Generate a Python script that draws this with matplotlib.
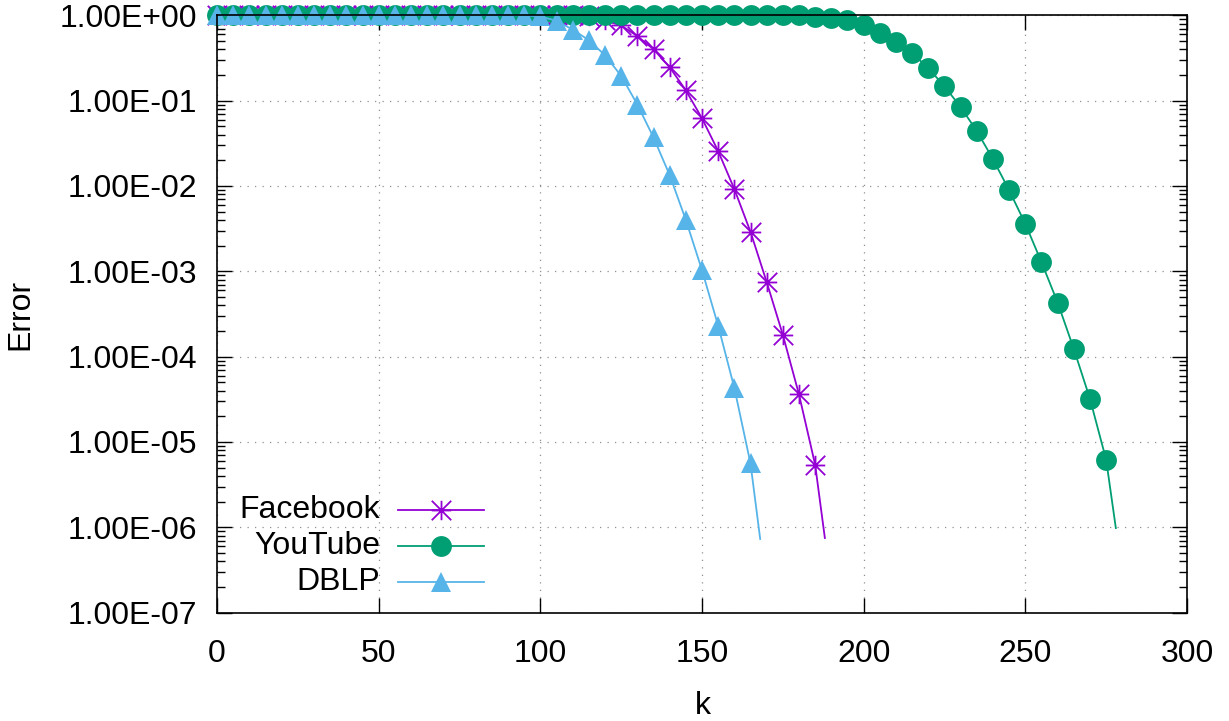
import matplotlib
matplotlib.use("Agg")
import matplotlib.pyplot as plt
from matplotlib.path import Path
from matplotlib.lines import Line2D
from matplotlib.ticker import FuncFormatter, LogLocator, NullFormatter, MultipleLocator
import numpy as np

plt.rcParams['font.family'] = ['Liberation Sans', 'DejaVu Sans']

# error vs k, one marker every 5 steps of k
k_step = 5
facebook_err = [1.0] * 23 + [0.97, 0.87, 0.76, 0.57, 0.40, 0.246, 0.132, 0.062,
                             0.0256, 0.0092, 0.0029, 7.5e-4, 1.8e-4, 3.6e-5, 5.4e-6]
youtube_err = [1.0] * 37 + [0.96, 0.92, 0.87, 0.76, 0.62, 0.48, 0.36, 0.24, 0.147,
                            0.084, 0.044, 0.0206, 0.0089, 0.0036, 0.00128, 4.3e-4,
                            1.23e-4, 3.2e-5, 6.2e-6]
dblp_err = [1.0] * 20 + [0.97, 0.86, 0.68, 0.51, 0.34, 0.195, 0.09, 0.037, 0.0134,
                         0.0040, 0.00103, 2.3e-4, 4.3e-5, 5.6e-6]

# last nonzero error of each run (line continues past the last marker)
facebook_end = (188, 7.5e-7)
youtube_end = (278, 9.8e-7)
dblp_end = (168, 7.3e-7)

names = ["Facebook", "YouTube", "DBLP"]
colors = ["#9400D3", "#009E73", "#56B4E9"]

# gnuplot style asterisk: plus and cross
star = Path([(-1, 0), (1, 0), (0, -1), (0, 1), (-1, -1), (1, 1), (-1, 1), (1, -1)],
            [Path.MOVETO, Path.LINETO] * 4)
markers = [dict(marker=star, ms=14, mew=1.3, mfc="none"),
           dict(marker="o", ms=15, mew=0),
           dict(marker="^", ms=15, mew=0)]

fs = 23

fig = plt.figure(figsize=(12.29, 7.21), dpi=100)
ax = fig.add_axes([0.1766, 0.1503, 0.7892, 0.8285])

for err, end, name, c, m in zip([facebook_err, youtube_err, dblp_err],
                                [facebook_end, youtube_end, dblp_end],
                                names, colors, markers):
    k = np.arange(len(err)) * k_step
    ax.plot(np.append(k, end[0]), np.append(err, end[1]), color=c, lw=1.3,
            clip_on=False, zorder=2)
    ax.plot(k, err, ls="none", color=c, mec=c, clip_on=False, zorder=2, **m)

ax.set_yscale("log")
ax.set_xlim(0, 300)
ax.set_ylim(1e-7, 1)
ax.xaxis.set_major_locator(MultipleLocator(50))
ax.yaxis.set_major_locator(LogLocator(base=10, numticks=20))
ax.yaxis.set_minor_locator(LogLocator(base=10, subs=np.arange(2, 10), numticks=20))
ax.yaxis.set_minor_formatter(NullFormatter())
ax.yaxis.set_major_formatter(FuncFormatter(lambda v, p: f"{v:.2E}"))

ax.tick_params(which="both", direction="in", top=True, right=True, labelsize=fs, width=1)
ax.tick_params(which="major", length=11)
ax.tick_params(which="minor", length=5.5)
ax.tick_params(axis="x", pad=19)
ax.tick_params(axis="y", pad=14)
for s in ax.spines.values():
    s.set_linewidth(1.2)
    s.set_zorder(3)

ax.grid(True, which="major", color="#909090", lw=0.9, ls=(0, (1, 5)))
ax.set_axisbelow(True)

ax.set_xlabel("k", fontsize=fs)
ax.set_ylabel("Error", fontsize=fs)
ax.xaxis.set_label_coords(0.501, -0.131)
ax.yaxis.set_label_coords(-0.187, 0.5)

# key in the lower left, text right-aligned before the sample
rows = [0.172, 0.112, 0.0516]
for name, c, m, y in zip(names, colors, markers, rows):
    ax.text(0.168, y, name, transform=ax.transAxes, ha="right", va="center", fontsize=fs)
    ax.add_line(Line2D([0.1866, 0.2753], [y, y], transform=ax.transAxes, color=c, lw=1.3))
    ax.add_line(Line2D([0.2309], [y], transform=ax.transAxes, ls="none", color=c, mec=c, **m))

fig.savefig("out.png", dpi=100)
